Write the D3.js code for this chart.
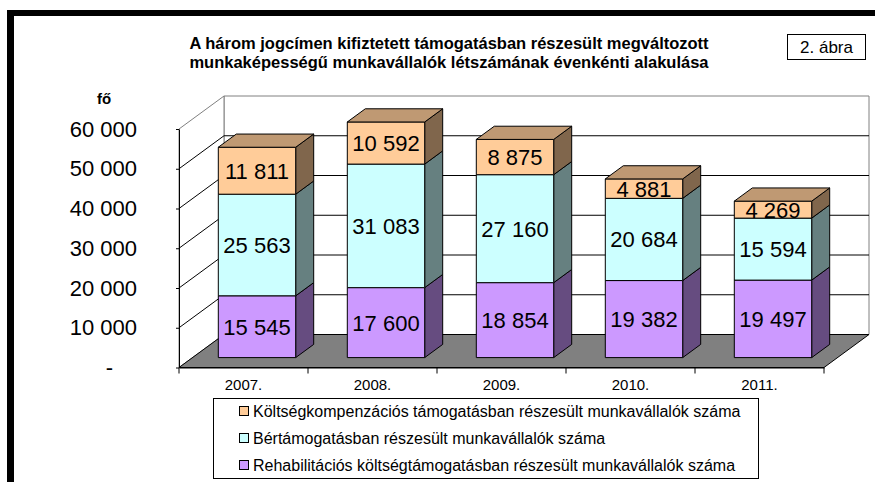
<!DOCTYPE html>
<html>
<head>
<meta charset="utf-8">
<script src="https://cdn.jsdelivr.net/npm/d3@7"></script>
<style>
  body { margin: 0; background: #fff; }
  text { font-family: "Liberation Sans", Arial, sans-serif; }
</style>
</head>
<body>
<svg width="875" height="482"></svg>
<script>
const years = ['2007.', '2008.', '2009.', '2010.', '2011.'];
const rehab = [15545, 17600, 18854, 19382, 19497];
const ber = [25563, 31083, 27160, 20684, 15594];
const kolt = [11811, 10592, 8875, 4881, 4269];
const yTicks = [0, 10000, 20000, 30000, 40000, 50000, 60000];
const seriesNames = [
  'Költségkompenzációs támogatásban részesült munkavállalók száma',
  'Bértámogatásban részesült munkavállalók száma',
  'Rehabilitációs költségtámogatásban részesült munkavállalók száma'
];

const svg = d3.select('svg');
const [DX, DY] = [45, -33];      // depth of the 3d box
const [z0, z1] = [0.3, 0.7];     // bar depth inside the box

const x = d3.scaleBand().domain(years).range([179, 824]);
const y = d3.scaleLinear().domain([0, 60000]).range([367.5, 129]);
const fmt = d3.formatLocale({decimal: ',', thousands: ' ', grouping: [3], currency: ['', '']}).format(',d');

const P = (px, v, z) => [px + z * DX, y(v) + z * DY];
const poly = pts => 'M' + pts.map(p => p.join(',')).join('L') + 'Z';

// frame
svg.append('rect').attr('x', 7).attr('y', 10).attr('width', 868).attr('height', 6).attr('fill', '#000');
svg.append('rect').attr('x', 7).attr('y', 10).attr('width', 7).attr('height', 472).attr('fill', '#000');

// title
svg.append('text').attr('x', 449).attr('y', 49).attr('text-anchor', 'middle')
  .attr('font-size', 16.5).attr('font-weight', 'bold')
  .text('A három jogcímen kifiztetett támogatásban részesült megváltozott');
svg.append('text').attr('x', 449).attr('y', 68).attr('text-anchor', 'middle')
  .attr('font-size', 16.5).attr('font-weight', 'bold')
  .text('munkaképességű munkavállalók létszámának évenkénti alakulása');

svg.append('rect').attr('x', 787.5).attr('y', 34.5).attr('width', 78).attr('height', 25)
  .attr('fill', '#fff').attr('stroke', '#000');
svg.append('text').attr('x', 826.5).attr('y', 53).attr('text-anchor', 'middle')
  .attr('font-size', 17).text('2. ábra');

svg.append('text').attr('x', 104).attr('y', 104).attr('text-anchor', 'middle')
  .attr('font-size', 15).attr('font-weight', 'bold').text('fő');

// walls
const x0 = x.range()[0], x1 = x.range()[1];
const walls = svg.append('g');
walls.append('path')
  .attr('d', poly([P(x0, 0, 1), P(x1, 0, 1), P(x1, 60000, 1), P(x0, 60000, 1)]))
  .attr('fill', '#fff').attr('stroke', '#808080');
walls.append('path')
  .attr('d', poly([P(x0, 0, 0), P(x0, 0, 1), P(x0, 60000, 1), P(x0, 60000, 0)]))
  .attr('fill', '#fff').attr('stroke', '#808080');

// gridlines
const grid = yTicks.filter(d => d > 0 && d < 60000);
walls.selectAll('.gb').data(grid).enter().append('path')
  .attr('d', d => 'M' + P(x0, d, 1) + 'L' + P(x1, d, 1))
  .attr('stroke', '#000').attr('fill', 'none');
walls.selectAll('.gl').data(grid).enter().append('path')
  .attr('d', d => 'M' + P(x0, d, 0) + 'L' + P(x0, d, 1))
  .attr('stroke', '#000').attr('fill', 'none');

// floor
walls.append('path')
  .attr('d', poly([P(x0, 0, 0), P(x1, 0, 0), P(x1, 0, 1), P(x0, 0, 1)]))
  .attr('fill', '#808080').attr('stroke', '#000');

// bars
const rows = years.map((yr, i) => ({year: yr, rehab: rehab[i], ber: ber[i], kolt: kolt[i]}));
const keys = ['rehab', 'ber', 'kolt'];
const stack = d3.stack().keys(keys)(rows);
const colors = {
  rehab: ['#CC99FF', '#664C80', '#9973BF'],
  ber: ['#CCFFFF', '#668080', '#99BFBF'],
  kolt: ['#FFCC99', '#80664C', '#BF9973']
};
const bw = x.bandwidth();

years.forEach((yr, i) => {
  const g = svg.append('g');
  const bx0 = x(yr) + bw * 0.2, bx1 = x(yr) + bw * 0.8;
  stack.forEach((s, k) => {
    const [v0, v1] = s[i];
    const c = colors[s.key];
    g.append('path')
      .attr('d', poly([P(bx1, v0, z0), P(bx1, v0, z1), P(bx1, v1, z1), P(bx1, v1, z0)]))
      .attr('fill', c[1]).attr('stroke', '#000');
    g.append('path')
      .attr('d', poly([P(bx0, v0, z0), P(bx1, v0, z0), P(bx1, v1, z0), P(bx0, v1, z0)]))
      .attr('fill', c[0]).attr('stroke', '#000');
    if (k === stack.length - 1) {
      g.append('path')
        .attr('d', poly([P(bx0, v1, z0), P(bx1, v1, z0), P(bx1, v1, z1), P(bx0, v1, z1)]))
        .attr('fill', c[2]).attr('stroke', '#000');
    }
  });
  stack.forEach(s => {
    const [v0, v1] = s[i];
    const p = P((bx0 + bx1) / 2, (v0 + v1) / 2, z0);
    g.append('text').attr('x', p[0]).attr('y', p[1]).attr('dy', '0.36em')
      .attr('text-anchor', 'middle').attr('font-size', 22)
      .text(fmt(v1 - v0));
  });
});

// y axis
const yAxis = svg.append('g').attr('transform', `translate(${x0},0)`)
  .call(d3.axisLeft(y).tickValues(yTicks).tickSize(3).tickSizeOuter(0).tickPadding(39)
    .tickFormat(d => d === 0 ? '-' : fmt(d)));
yAxis.selectAll('text').attr('font-size', 22).attr('fill', '#000')
  .attr('font-family', '"Liberation Sans", Arial, sans-serif')
  .attr('dx', d => d === 0 ? -24 : 0);
yAxis.select('.domain').attr('stroke', '#000');
yAxis.selectAll('.tick line').attr('stroke', '#000');

// x axis
const xAxis = svg.append('g').attr('transform', `translate(0,${y(0)})`)
  .call(d3.axisBottom(x).tickSize(0).tickSizeOuter(0).tickPadding(12));
xAxis.select('.domain').attr('stroke', '#000');
xAxis.selectAll('text').attr('font-size', 15).attr('fill', '#000')
  .attr('font-family', '"Liberation Sans", Arial, sans-serif');
xAxis.selectAll('.bt').data(years.map(d => x(d)).concat([x1])).enter().append('line')
  .attr('x1', d => d).attr('x2', d => d).attr('y1', 0).attr('y2', 6).attr('stroke', '#000');

// legend
const lg = svg.append('g');
lg.append('rect').attr('x', 213.5).attr('y', 398.5).attr('width', 545).attr('height', 80)
  .attr('fill', '#fff').attr('stroke', '#000');
const legendKeys = ['kolt', 'ber', 'rehab'];
legendKeys.forEach((k, i) => {
  const cy = 411 + i * 27;
  lg.append('rect').attr('x', 239.5).attr('y', cy - 4.5).attr('width', 9).attr('height', 9)
    .attr('fill', colors[k][0]).attr('stroke', '#000');
  lg.append('text').attr('x', 253).attr('y', cy).attr('dy', '0.36em')
    .attr('font-size', 16).text(seriesNames[i]);
});
</script>
</body>
</html>
